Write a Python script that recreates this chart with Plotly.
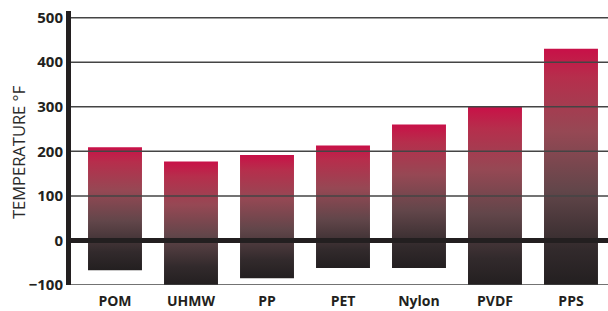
import plotly.graph_objects as go

categories = ["POM", "UHMW", "PP", "PET", "Nylon", "PVDF", "PPS"]
temp_low = [-67, -100, -85, -62, -62, -100, -100]
temp_high = [209, 177, 192, 213, 260, 300, 430]
y_ticks = [-100, 0, 100, 200, 300, 400, 500]

DARK = "#231F20"
grad = [
    [0.0, "rgb(35,31,32)"],
    [0.15, "rgb(50,42,44)"],
    [0.4, "rgb(98,70,74)"],
    [0.65, "rgb(150,72,84)"],
    [0.88, "rgb(182,46,76)"],
    [0.97, "rgb(196,24,72)"],
    [1.0, "rgb(200,16,72)"],
]
bar_w = 0.71

fig = go.Figure()
for i, (lo, hi) in enumerate(zip(temp_low, temp_high)):
    x0, x1 = i - bar_w / 2, i + bar_w / 2
    fig.add_trace(go.Scatter(
        x=[x0, x1, x1, x0, x0], y=[lo, lo, hi, hi, lo],
        mode="lines", line=dict(width=0), fill="toself",
        fillgradient=dict(type="vertical", colorscale=grad),
        hoverinfo="skip", showlegend=False,
    ))

shapes = []
for t in y_ticks:
    shapes.append(dict(
        type="line", xref="paper", x0=0, x1=1, yref="y", y0=t, y1=t,
        line=dict(color=DARK if t == 0 else "#444444", width=5 if t == 0 else 1.5),
        layer="above",
    ))

fig.update_layout(
    width=608, height=311,
    margin=dict(l=71, r=0, t=11, b=26),
    paper_bgcolor="white", plot_bgcolor="white",
    shapes=shapes,
    font=dict(family="Open Sans", color=DARK),
    xaxis=dict(
        range=[-0.579, 6.487], tickmode="array", tickvals=list(range(len(categories))),
        ticktext=categories, showgrid=False, zeroline=False, showline=False, ticks="",
        tickfont=dict(size=14, weight="bold", color=DARK), ticklabelstandoff=6,
    ),
    yaxis=dict(
        range=[-100, 515], tickmode="array", tickvals=y_ticks,
        showgrid=False, zeroline=False, showline=True, linewidth=5, linecolor=DARK,
        ticks="", tickfont=dict(size=15, weight="bold", color=DARK),
    ),
    annotations=[dict(
        text="TEMPERATURE °F", textangle=-90, xref="paper", yref="paper",
        x=0, y=0.5, xanchor="center", yanchor="middle", xshift=-53, yshift=-4,
        showarrow=False, font=dict(size=16.5, color="#2b2b2b", family="Open Sans"),
    )],
)

fig.write_html("out.html", config={"displayModeBar": False},
               post_script="document.body.style.margin='0';")
